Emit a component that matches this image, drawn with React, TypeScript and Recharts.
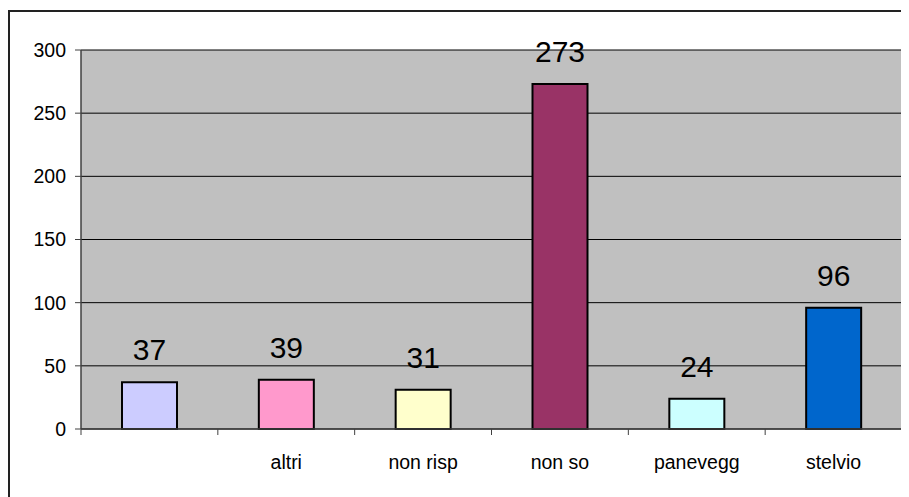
import React from "react";
import { BarChart, Bar, XAxis, YAxis, CartesianGrid, Cell, LabelList } from "recharts";

const categories = ["", "altri", "non risp", "non so", "panevegg", "stelvio"];
const counts = [37, 39, 31, 273, 24, 96];
const colors = ["#CCCCFF", "#FF99CC", "#FFFFCC", "#993366", "#CCFFFF", "#0066CC"];
const yTicks = [0, 50, 100, 150, 200, 250, 300];

const data = categories.map((name, i) => ({ name, value: counts[i] }));

const FONT = "'Liberation Sans', Arial, sans-serif";
const HALF_BAND = (902 - 81) / categories.length / 2;

function CategoryTick(props: any) {
  const { x, y, payload, index } = props;
  const last = index === categories.length - 1;
  return (
    <g>
      <line x1={x - HALF_BAND} x2={x - HALF_BAND} y1={y} y2={y + 6} stroke="#404040" />
      {last && <line x1={x + HALF_BAND} x2={x + HALF_BAND} y1={y} y2={y + 6} stroke="#404040" />}
      <text x={x} y={y + 40} textAnchor="middle" fontSize={19.5} fill="#000" fontFamily={FONT}>
        {payload.value}
      </text>
    </g>
  );
}

export default function App() {
  return (
    <div style={{ position: "relative", width: 901, height: 489, fontFamily: FONT }}>
      <div
        style={{
          position: "absolute",
          left: 0,
          top: 2,
          width: 1000,
          height: 600,
          borderTop: "2px solid #222",
          borderLeft: "2px solid #222",
        }}
      />
      <div style={{ position: "absolute", left: 0, top: 0 }}>
        <BarChart
          width={901}
          height={489}
          data={data}
          barCategoryGap="30%"
          margin={{ top: 42, right: 7, bottom: 38, left: 13 }}
        >
          <CartesianGrid vertical={false} stroke="#000" fill="#C0C0C0" fillOpacity={1} />
          <XAxis
            dataKey="name"
            interval={0}
            tickSize={0}
            tickMargin={0}
            height={30}
            axisLine={{ stroke: "#404040", strokeWidth: 1.5 }}
            tick={<CategoryTick />}
          />
          <XAxis xAxisId="top" dataKey="name" orientation="top" height={0} tick={false} tickLine={false}
            axisLine={{ stroke: "#808080", strokeWidth: 2 }} />
          <YAxis
            domain={[0, 300]}
            ticks={yTicks}
            interval={0}
            width={60}
            tickSize={6}
            tickMargin={9}
            axisLine={{ stroke: "#404040", strokeWidth: 1.5 }}
            tickLine={{ stroke: "#404040" }}
            tick={{ fill: "#000", fontSize: 19.5, fontFamily: FONT }}
          />
          <YAxis yAxisId="right" orientation="right" width={0} tick={false} tickLine={false}
            axisLine={{ stroke: "#808080", strokeWidth: 2 }} />
          <Bar dataKey="value" barSize={55} stroke="#000" strokeWidth={2} isAnimationActive={false}>
            {data.map((d, i) => (
              <Cell key={i} fill={colors[i]} />
            ))}
            <LabelList dataKey="value" position="top" offset={22} fill="#000" fontSize={30} fontFamily={FONT} />
          </Bar>
        </BarChart>
      </div>
    </div>
  );
}
